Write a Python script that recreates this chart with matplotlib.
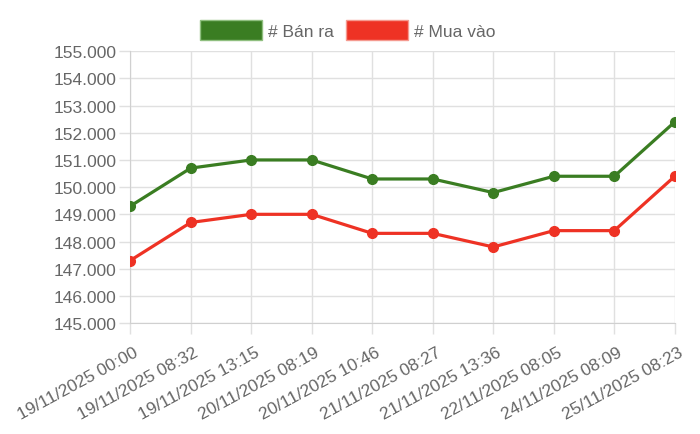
import matplotlib
matplotlib.use("Agg")
import matplotlib.pyplot as plt
import matplotlib.transforms as mtransforms
from matplotlib.patches import Patch
from matplotlib.ticker import FuncFormatter, MultipleLocator

# data
labels = [
    "19/11/2025 00:00", "19/11/2025 08:32", "19/11/2025 13:15",
    "20/11/2025 08:19", "20/11/2025 10:46", "21/11/2025 08:27",
    "21/11/2025 13:36", "22/11/2025 08:05", "24/11/2025 08:09",
    "25/11/2025 08:23",
]
ban_ra = [149.3, 150.7, 151.0, 151.0, 150.3, 150.3, 149.8, 150.4, 150.4, 152.4]
mua_vao = [147.3, 148.7, 149.0, 149.0, 148.3, 148.3, 147.8, 148.4, 148.4, 150.4]

GREEN = "#3a7d22"
RED = "#ee3224"
TEXT = "#666666"
GRID = "#e0e0e0"
FS = 12.5

plt.rcParams["font.family"] = ["Liberation Sans", "DejaVu Sans"]

fig = plt.figure(figsize=(7, 4.35), dpi=100)
ax = fig.add_axes([0.186, 0.255, 0.778, 0.625])

x = list(range(len(labels)))
ax.plot(x, ban_ra, color=GREEN, linewidth=2.3, marker="o", markersize=7, zorder=3)
ax.plot(x, mua_vao, color=RED, linewidth=2.3, marker="o", markersize=7, zorder=3)

ax.set_xlim(0, len(labels) - 1)
ax.set_ylim(145, 155)
ax.yaxis.set_major_locator(MultipleLocator(1))
ax.yaxis.set_major_formatter(FuncFormatter(lambda v, _: f"{v:.3f}"))
ax.set_xticks(x)
ax.set_xticklabels([])

# rotated x labels, placed by hand so they sit a bit right/down of the tick like chart.js
trans = mtransforms.blended_transform_factory(ax.transData, ax.transAxes)
offset = mtransforms.ScaledTranslation(3 / 100, -21 / 100, fig.dpi_scale_trans)
for xi, lbl in zip(x, labels):
    ax.text(xi, 0, lbl, transform=trans + offset, rotation=28.5, ha="right", va="top",
            rotation_mode="anchor", fontsize=FS, color=TEXT, clip_on=False)

ax.grid(True, color=GRID, linewidth=1)
ax.set_axisbelow(True)
for side in ["top", "right"]:
    ax.spines[side].set_visible(False)
for side in ["left", "bottom"]:
    ax.spines[side].set_color("#d0d0d0")
ax.tick_params(axis="both", colors=GRID, labelcolor=TEXT, labelsize=FS, length=8, width=1)
ax.tick_params(axis="y", pad=2)

handles = [
    Patch(facecolor=GREEN, edgecolor="#8fbf7f", linewidth=1, label="# Bán ra"),
    Patch(facecolor=RED, edgecolor="#f59a90", linewidth=1, label="# Mua vào"),
]
leg = fig.legend(handles=handles, loc="upper center", bbox_to_anchor=(0.497, 0.968), ncol=2,
                 frameon=False, fontsize=FS, handlelength=3.55, handleheight=1.45,
                 handletextpad=0.35, columnspacing=0.7, borderaxespad=0)
for t in leg.get_texts():
    t.set_color(TEXT)

fig.savefig("out.png", dpi=100)
